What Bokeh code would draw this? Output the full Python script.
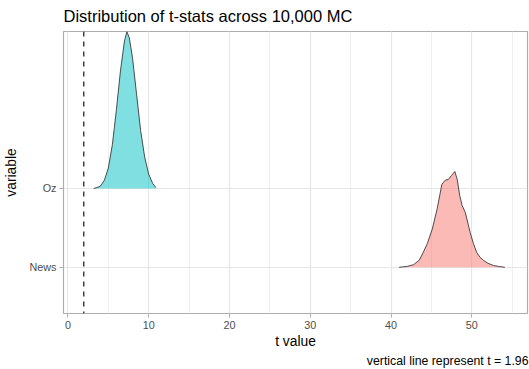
from bokeh.plotting import figure
from bokeh.models import Range1d, FixedTicker, SingleIntervalTicker, Span, Title
from bokeh.embed import file_html
from bokeh.resources import INLINE

# Ridge categories (bottom to top) and their fill colours
categories = ["News", "Oz"]
fill_colors = ["#F8766D", "#00BFC4"]

# Estimated density of the t statistic for each variable
oz_t = [3.2, 3.6, 4.0, 4.5, 5.0, 5.5, 6.0, 6.5, 7.0, 7.3, 7.6, 8.0, 8.5, 9.0, 9.5, 10.0, 10.5, 10.9]
oz_density = [0.000, 0.002, 0.005, 0.018, 0.046, 0.099, 0.178, 0.266, 0.334, 0.355, 0.341,
              0.295, 0.213, 0.131, 0.071, 0.032, 0.011, 0.002]

news_t = [41.0, 42.0, 42.8, 43.5, 44.0, 44.5, 45.1, 45.7, 46.3, 46.7, 47.1, 47.5, 47.9,
          48.2, 48.5, 48.8, 49.2, 49.8, 50.2, 50.6, 51.0, 51.5, 52.0, 52.7, 53.3, 54.1]
news_density = [0.000, 0.002, 0.006, 0.016, 0.034, 0.054, 0.086, 0.131, 0.188, 0.197, 0.199,
                0.208, 0.217, 0.199, 0.163, 0.140, 0.124, 0.079, 0.054, 0.034, 0.023, 0.015,
                0.009, 0.004, 0.002, 0.000]

series_t = [news_t, oz_t]
series_density = [news_density, oz_density]

t_critical = 1.96
ridge_scale = 5.6  # density -> category-height units

FONT = "Liberation Sans"

p = figure(width=529, height=369, output_backend="svg", toolbar_location=None,
           x_range=Range1d(-0.55, 56.9), y_range=Range1d(0.414, 3.99),
           min_border_left=62, min_border_right=2, min_border_top=31, min_border_bottom=56)

p.background_fill_color = "white"
p.border_fill_color = "white"
p.outline_line_color = "#adadad"
p.outline_line_width = 1.2

# title
p.title.text = "Distribution of t-stats across 10,000 MC"
p.title.text_font = FONT
p.title.text_font_size = "16.5px"
p.title.text_font_style = "normal"
p.title.text_color = "black"
p.title.align = "left"
p.title.vertical_align = "top"
p.title.offset = 0
p.title.standoff = 9

# grid lines
p.xaxis.ticker = SingleIntervalTicker(interval=10, num_minor_ticks=2)
p.xgrid.grid_line_color = "#e6e6e6"
p.xgrid.grid_line_width = 1.2
p.xgrid.minor_grid_line_color = "#efefef"
p.xgrid.minor_grid_line_width = 1.0
p.yaxis.ticker = FixedTicker(ticks=[1, 2])
p.yaxis.major_label_overrides = {i + 1: c for i, c in enumerate(categories)}
p.ygrid.grid_line_color = "#e6e6e6"
p.ygrid.grid_line_width = 1.2

for ax in (p.xaxis[0], p.yaxis[0]):
    ax.axis_line_color = None
    ax.major_tick_line_color = "#adadad"
    ax.major_tick_line_width = 1
    ax.major_tick_in = 0
    ax.major_tick_out = 4
    ax.minor_tick_line_color = None
    ax.major_label_text_font = FONT
    ax.major_label_text_font_size = "10.8px"
    ax.major_label_text_color = "#4d4d4d"
    ax.major_label_standoff = 3
    ax.axis_label_text_font = FONT
    ax.axis_label_text_font_size = "13.8px"
    ax.axis_label_text_font_style = "normal"
    ax.axis_label_text_color = "black"

p.xaxis.axis_label = "t value"
p.xaxis.axis_label_standoff = 2
p.yaxis.axis_label = "variable"
p.yaxis.axis_label_standoff = 8

# caption under the x axis
p.add_layout(Title(text="vertical line represent t = 1.96", align="right",
                   text_font=FONT, text_font_size="12.3px", text_font_style="normal",
                   text_color="black", standoff=0, offset=-1), "below")

# density ridges
for i, (t, d, col) in enumerate(zip(series_t, series_density, fill_colors)):
    base = i + 1
    top = [base + v * ridge_scale for v in d]
    p.varea(x=t, y1=[base] * len(t), y2=top, fill_color=col, fill_alpha=0.5)
    p.line(t, top, line_color="#3a3a3a", line_width=0.9)

# critical value line
p.add_layout(Span(location=t_critical, dimension="height", line_color="#222222",
                  line_width=1.3, line_dash="5 5"))

open("out.html", "w").write(file_html(p, INLINE))
